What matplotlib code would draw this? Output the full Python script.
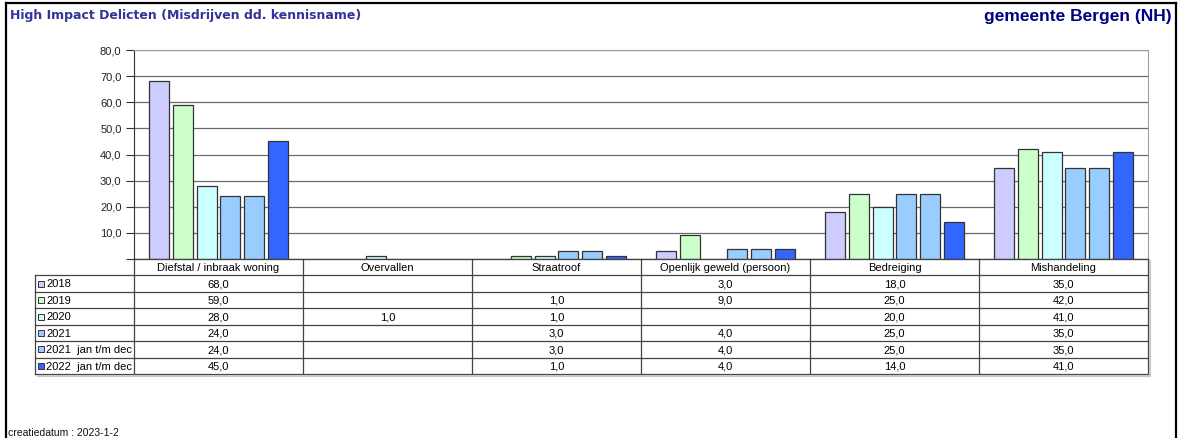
import matplotlib
matplotlib.use('Agg')
import matplotlib.pyplot as plt
import numpy as np
from matplotlib.lines import Line2D

plt.rcParams['font.family'] = 'Liberation Sans'

# data
categories = ['Diefstal / inbraak woning', 'Overvallen', 'Straatroof',
              'Openlijk geweld (persoon)', 'Bedreiging', 'Mishandeling']
series_names = ['2018', '2019', '2020', '2021', '2021  jan t/m dec', '2022  jan t/m dec']
v2018 = [68, None, None, 3, 18, 35]
v2019 = [59, None, 1, 9, 25, 42]
v2020 = [28, 1, 1, None, 20, 41]
v2021 = [24, None, 3, 4, 25, 35]
v2021_jd = [24, None, 3, 4, 25, 35]
v2022_jd = [45, None, 1, 4, 14, 41]
series = [v2018, v2019, v2020, v2021, v2021_jd, v2022_jd]
colors = ['#CCCCFF', '#CCFFCC', '#CCFFFF', '#99CCFF', '#99CCFF', '#3366FF']
yticks = [0, 10, 20, 30, 40, 50, 60, 70, 80]

W, H = 1181, 438


def box(l, t, r, b):
    return [l / W, 1 - b / H, (r - l) / W, (b - t) / H]


fig = plt.figure(figsize=(W / 100, H / 100), dpi=100)

# bar chart
ax = fig.add_axes(box(134, 50, 1148, 259))
n = len(categories)
pitch = 23.8 / 169
width = 20 / 169
for s, (vals, col) in enumerate(zip(series, colors)):
    for i, v in enumerate(vals):
        if v is None:
            continue
        ax.bar(i + 0.5 + (s - 2.5) * pitch, v, width=width, color=col,
               edgecolor='#333333', linewidth=0.9, zorder=3)

ax.set_xlim(0, n)
ax.set_ylim(0, 80)
ax.set_yticks(yticks)
ax.set_yticklabels(['' if t == 0 else f'{t:.1f}'.replace('.', ',') for t in yticks],
                   fontsize=8, color='#222222')
ax.set_xticks([])
ax.tick_params(axis='y', length=6, width=0.8, color='#333333', pad=3)
ax.grid(axis='y', color='#6A6A6A', linewidth=0.9, zorder=0)
ax.spines['left'].set_color('#333333')
ax.spines['bottom'].set_color('#333333')
ax.spines['top'].set_color('#A0A0A0')
ax.spines['right'].set_color('#A0A0A0')

# data table under the chart
lab_w = 99 / 169
tab = fig.add_axes(box(35, 259, 1148, 374))
tab.set_xlim(-lab_w, n)
tab.set_ylim(len(series) + 1, 0)
tab.axis('off')
lc = '#444444'
for i in range(n + 1):
    tab.plot([i, i], [0, len(series) + 1], color=lc, lw=0.9, clip_on=False)
tab.plot([-lab_w, -lab_w], [1, len(series) + 1], color=lc, lw=0.9, clip_on=False)
tab.plot([0, n], [0, 0], color=lc, lw=0.9, clip_on=False)
for r in range(1, len(series) + 2):
    tab.plot([-lab_w, n], [r, r], color=lc, lw=0.9, clip_on=False)
# shadow
tab.plot([n + 0.012, n + 0.012], [0.1, len(series) + 1.1], color='#C8C8C8', lw=1.5, clip_on=False)
tab.plot([-lab_w + 0.02, n + 0.012], [len(series) + 1.1, len(series) + 1.1],
         color='#C8C8C8', lw=1.5, clip_on=False)

for i, c in enumerate(categories):
    tab.text(i + 0.5, 0.55, c, ha='center', va='center', fontsize=8)
for r, (name, vals, col) in enumerate(zip(series_names, series, colors)):
    y = r + 1.55
    tab.plot(-lab_w + 6 / 169, y - 0.05, marker='s', markersize=4.2, mfc=col,
             mec='#333333', mew=0.7, clip_on=False)
    tab.text(-lab_w + 11 / 169, y, name, ha='left', va='center', fontsize=8)
    for i, v in enumerate(vals):
        if v is not None:
            tab.text(i + 0.5, y, f'{v:.1f}'.replace('.', ','), ha='center',
                     va='center', fontsize=8)

# titles
fig.text(10 / W, 1 - 15 / H, 'High Impact Delicten (Misdrijven dd. kennisname)',
         ha='left', va='center', fontsize=9, fontweight='bold', color='#333399',
         family='DejaVu Sans')
fig.text(1172 / W, 1 - 16 / H, 'gemeente Bergen (NH)', ha='right', va='center',
         fontsize=12.5, fontweight='bold', color='#000080')
fig.text(8 / W, 1 - 433 / H, 'creatiedatum : 2023-1-2', ha='left', va='center',
         fontsize=7.5, color='#111111')

# outer frame
fig.add_artist(Line2D([6 / W, 6 / W], [0, 1 - 3 / H], color='black', lw=1.6))
fig.add_artist(Line2D([6 / W, 1176 / W], [1 - 3 / H, 1 - 3 / H], color='black', lw=1.6))
fig.add_artist(Line2D([1176 / W, 1176 / W], [0, 1 - 3 / H], color='black', lw=1.6))

plt.savefig('out.png', dpi=100)
